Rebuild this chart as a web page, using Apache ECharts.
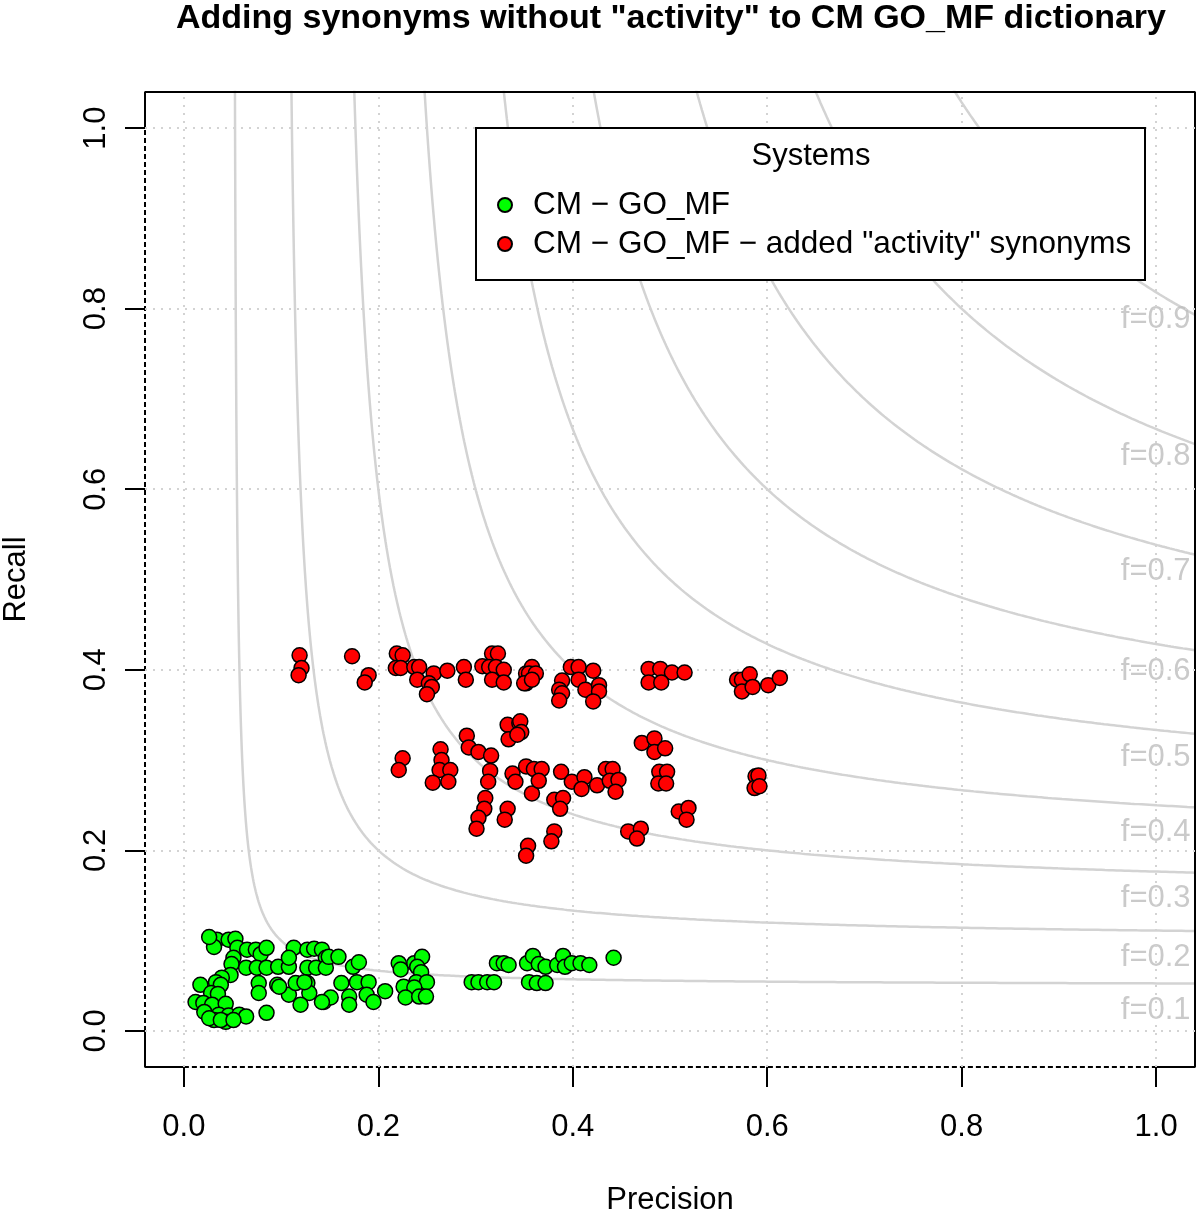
<!DOCTYPE html>
<html><head><meta charset="utf-8">
<script src="https://cdn.jsdelivr.net/npm/echarts@6/dist/echarts.min.js"></script>
<style>html,body{margin:0;padding:0;background:#fff}#c{width:1200px;height:1213px}</style>
</head><body><div id="c"></div>
<script>
const titleText = 'Adding synonyms without "activity" to CM GO_MF dictionary';
const xName = 'Precision';
const yName = 'Recall';
const legendTitle = 'Systems';
const tickValues = [0, 0.2, 0.4, 0.6, 0.8, 1.0];
const fValues = [0.1, 0.2, 0.3, 0.4, 0.5, 0.6, 0.7, 0.8, 0.9];
const seriesNames = ['CM \u2212 GO_MF', 'CM \u2212 GO_MF \u2212 added "activity" synonyms'];

const greenP = [0.034,0.031,0.046,0.053,0.055,0.065,0.074,0.079,0.085,0.051,0.049,0.064,0.075,0.085,0.097,0.108,0.113,0.108,0.127,0.134,0.142,0.146,0.127,0.136,0.146,0.048,0.039,0.033,0.038,0.017,0.028,0.035,0.012,0.020,0.029,0.043,0.036,0.046,0.057,0.031,0.043,0.085,0.077,0.077,0.096,0.108,0.115,0.127,0.129,0.120,0.144,0.064,0.021,0.026,0.038,0.051,0.026,0.124,0.098,0.149,0.159,0.174,0.180,0.162,0.151,0.142,0.170,0.170,0.178,0.190,0.188,0.195,0.207,0.221,0.223,0.237,0.245,0.240,0.244,0.239,0.250,0.226,0.237,0.228,0.242,0.249,0.322,0.329,0.334,0.296,0.303,0.312,0.319,0.353,0.359,0.365,0.372,0.355,0.363,0.372,0.384,0.390,0.392,0.399,0.408,0.417,0.442];
const greenR = [0.101,0.093,0.101,0.102,0.092,0.090,0.090,0.085,0.092,0.081,0.074,0.070,0.070,0.070,0.071,0.071,0.092,0.081,0.090,0.091,0.090,0.081,0.070,0.070,0.070,0.062,0.059,0.054,0.051,0.051,0.042,0.041,0.032,0.031,0.029,0.030,0.018,0.017,0.018,0.012,0.010,0.020,0.053,0.042,0.051,0.040,0.053,0.053,0.042,0.029,0.032,0.016,0.021,0.014,0.012,0.012,0.104,0.054,0.049,0.082,0.082,0.071,0.076,0.053,0.037,0.032,0.038,0.029,0.054,0.054,0.040,0.032,0.044,0.075,0.068,0.075,0.082,0.071,0.065,0.054,0.054,0.049,0.048,0.037,0.038,0.038,0.075,0.075,0.073,0.054,0.054,0.054,0.054,0.075,0.083,0.074,0.071,0.054,0.053,0.053,0.073,0.083,0.071,0.075,0.075,0.073,0.081];

const redP = [0.119,0.121,0.118,0.173,0.190,0.186,0.219,0.225,0.218,0.223,0.237,0.242,0.240,0.257,0.252,0.255,0.250,0.271,0.288,0.290,0.307,0.317,0.323,0.314,0.321,0.329,0.317,0.329,0.352,0.352,0.333,0.345,
0.358,0.355,0.362,0.350,0.358,0.398,0.406,0.421,0.389,0.386,0.389,0.386,0.406,0.413,0.427,0.427,0.421,0.478,0.490,0.502,0.515,0.478,0.491,0.569,0.574,0.582,0.574,0.585,0.601,0.613,0.346,
0.225,0.221,0.264,0.265,0.263,0.256,0.274,0.272,0.291,0.293,0.303,0.316,0.315,0.313,0.310,0.309,0.303,0.301,0.333,0.330,0.347,0.334,0.343,0.338,0.341,0.352,0.360,0.358,0.354,0.352,
0.368,0.365,0.388,0.399,0.412,0.409,0.425,0.434,0.441,0.438,0.447,0.444,0.381,0.390,0.387,0.381,0.378,0.471,0.484,0.484,0.495,0.489,0.497,0.488,0.496,0.509,0.519,0.517,0.457,0.470,0.466,0.588,0.591,0.587,0.592];
const redR = [0.416,0.402,0.394,0.415,0.394,0.386,0.418,0.416,0.402,0.402,0.403,0.403,0.389,0.396,0.385,0.381,0.373,0.399,0.403,0.389,0.404,0.418,0.418,0.403,0.403,0.400,0.389,0.386,0.396,0.385,0.339,0.341,
0.403,0.396,0.396,0.385,0.389,0.403,0.403,0.399,0.388,0.378,0.374,0.366,0.389,0.378,0.383,0.376,0.365,0.401,0.401,0.397,0.397,0.386,0.386,0.389,0.389,0.395,0.376,0.381,0.383,0.391,0.343,
0.302,0.289,0.312,0.300,0.289,0.275,0.289,0.276,0.327,0.314,0.309,0.305,0.288,0.276,0.258,0.246,0.236,0.224,0.246,0.234,0.331,0.323,0.328,0.285,0.276,0.293,0.290,0.263,0.205,0.194,
0.290,0.277,0.287,0.276,0.281,0.268,0.272,0.290,0.290,0.277,0.278,0.265,0.256,0.258,0.246,0.221,0.210,0.319,0.324,0.309,0.313,0.287,0.287,0.274,0.274,0.243,0.247,0.234,0.221,0.224,0.213,0.282,0.283,0.269,0.271];

const FONT = '"Liberation Sans", Arial, Helvetica, sans-serif';
const LO = -0.04, HI = 1.04;

function zip(a, b) { return a.map((v, i) => [v, b[i]]); }

function fCurve(f) {
  const p0 = f * 1.1 / (2 * 1.1 - f);
  const pts = [];
  const n = 400;
  for (let i = 0; i <= n; i++) {
    const t = i / n;
    const p = p0 + (HI - p0) * t * t;
    pts.push([p, f * p / (2 * p - f)]);
  }
  return pts;
}

const gridMarks = tickValues.map(v => ({ xAxis: v })).concat(tickValues.map(v => ({ yAxis: v })));

const series = [];
fValues.forEach((f, i) => {
  const s = {
    type: 'line', data: fCurve(f), symbol: 'none', silent: true, clip: true, z: 2,
    lineStyle: { color: '#d3d3d3', width: 2.5 }
  };
  if (i === 0) {
    s.markLine = {
      silent: true, symbol: ['none', 'none'], label: { show: false },
      lineStyle: { color: '#d3d3d3', width: 2, type: [2, 6] },
      data: gridMarks, animation: false
    };
  }
  series.push(s);
});

series.push({
  type: 'scatter', silent: true, clip: false, symbolSize: 1, z: 3,
  itemStyle: { color: 'rgba(0,0,0,0)' },
  data: fValues.map(f => ({ value: [1.036, f / (2 - f) - 0.03], name: 'f=' + f })),
  label: { show: true, position: 'left', distance: 0, formatter: p => p.name,
    color: '#bdbdbd', fontSize: 31, fontFamily: FONT }
});

const solidA = [[LO, 1], [LO, HI], [HI, HI], [HI, LO], [1, LO]];
const solidB = [[0, LO], [LO, LO], [LO, 0]];
const dashL = [[LO, 0], [LO, 1]];
const dashB = [[0, LO], [1, LO]];
[[solidA, 'solid'], [solidB, 'solid'], [dashL, [5, 3]], [dashB, [5, 3]]].forEach(([d, t]) => {
  series.push({ type: 'line', data: d, symbol: 'none', silent: true, clip: false, z: 4,
    lineStyle: { color: '#000', width: 2, type: t } });
});

series.push({
  name: seriesNames[0], type: 'scatter', data: zip(greenP, greenR), symbol: 'circle', symbolSize: 15, z: 5,
  itemStyle: { color: '#00ff00', borderColor: '#000', borderWidth: 1.5, opacity: 1 }
});
series.push({
  name: seriesNames[1], type: 'scatter', data: zip(redP, redR), symbol: 'circle', symbolSize: 15, z: 5,
  itemStyle: { color: '#ff0000', borderColor: '#000', borderWidth: 1.5, opacity: 1 }
});

const axisCommon = {
  type: 'value', min: LO, max: HI,
  axisLine: { show: false, onZero: false },
  axisTick: { show: true, customValues: tickValues, length: 20, inside: false, lineStyle: { color: '#000', width: 2 } },
  splitLine: { show: false },
  nameLocation: 'middle',
  nameTextStyle: { fontSize: 31, color: '#000', fontFamily: FONT }
};

const chart = echarts.init(document.getElementById('c'), null, { renderer: 'canvas' });
chart.setOption({
  animation: false,
  backgroundColor: '#fff',
  title: {
    text: titleText, left: 671, top: 2, textAlign: 'center', padding: 0,
    textStyle: { fontSize: 34, fontWeight: 'bold', color: '#000', fontFamily: FONT }
  },
  grid: { left: 145, right: 5, top: 92, bottom: 146, containLabel: false, outerBoundsMode: 'none' },
  xAxis: Object.assign({}, axisCommon, {
    name: xName, nameGap: 118,
    axisLabel: { customValues: tickValues, formatter: v => v.toFixed(1), fontSize: 31, color: '#000', margin: 45, fontFamily: FONT }
  }),
  yAxis: Object.assign({}, axisCommon, {
    name: yName, nameGap: 113,
    axisLabel: { customValues: tickValues, formatter: v => v.toFixed(1), fontSize: 31, color: '#000', margin: 33, rotate: 90, fontFamily: FONT }
  }),
  legend: {
    data: seriesNames, orient: 'vertical', left: 497, top: 189, padding: 0, itemGap: 7,
    icon: 'circle', itemWidth: 30, itemHeight: 14, z: 60, selectedMode: false,
    textStyle: { fontSize: 31.5, color: '#000', fontFamily: FONT, padding: [0, 0, 0, 8] }
  },
  graphic: [
    { type: 'rect', z: 50, shape: { x: 476, y: 128, width: 669, height: 152 },
      style: { fill: '#fff', stroke: '#000', lineWidth: 2 } },
    { type: 'text', z: 60, x: 811, y: 156,
      style: { text: legendTitle, fontSize: 31, fill: '#000', fontFamily: FONT, textAlign: 'center', textVerticalAlign: 'middle' } }
  ],
  series: series
});
</script>
</body></html>
